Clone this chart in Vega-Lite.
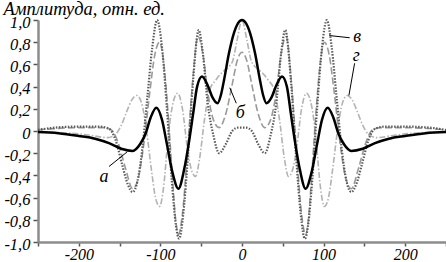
{
  "$schema": "https://vega.github.io/schema/vega-lite/v6.json",
  "width": 408,
  "height": 222,
  "autosize": {"type": "none"},
  "padding": {"left": 38, "top": 20, "right": 0, "bottom": 20},
  "background": "white",
  "config": {
    "view": {"stroke": null},
    "font": "Liberation Serif",
    "axis": {"labelFont": "Liberation Serif", "titleFont": "Liberation Serif", "labelFontStyle": "italic", "titleFontStyle": "italic"}
  },
  "datasets": {
    "a": [
      {"x": -250, "y": -0.01}, {"x": -225, "y": -0.02}, {"x": -200, "y": -0.045}, {"x": -180, "y": -0.07}, {"x": -163, "y": -0.11}, {"x": -148, "y": -0.16}, {"x": -134, "y": -0.18}, {"x": -125, "y": -0.12}, {"x": -118, "y": -0.02}, {"x": -112, "y": 0.12}, {"x": -105, "y": 0.21}, {"x": -98, "y": 0.1}, {"x": -92, "y": -0.12}, {"x": -85, "y": -0.38}, {"x": -78, "y": -0.52}, {"x": -71, "y": -0.35}, {"x": -65, "y": -0.1}, {"x": -60, "y": 0.15}, {"x": -55, "y": 0.4}, {"x": -49, "y": 0.49}, {"x": -42, "y": 0.41}, {"x": -36, "y": 0.3}, {"x": -30, "y": 0.25}, {"x": -26, "y": 0.32}, {"x": -22, "y": 0.46}, {"x": -16, "y": 0.7}, {"x": -10, "y": 0.88}, {"x": -5, "y": 0.97}, {"x": 0, "y": 1.0},
      {"x": 5, "y": 0.97}, {"x": 10, "y": 0.88}, {"x": 16, "y": 0.7}, {"x": 22, "y": 0.46}, {"x": 26, "y": 0.32}, {"x": 30, "y": 0.25}, {"x": 36, "y": 0.3}, {"x": 42, "y": 0.41}, {"x": 49, "y": 0.49}, {"x": 55, "y": 0.4}, {"x": 60, "y": 0.15}, {"x": 65, "y": -0.1}, {"x": 71, "y": -0.35}, {"x": 78, "y": -0.52}, {"x": 85, "y": -0.38}, {"x": 92, "y": -0.12}, {"x": 98, "y": 0.1}, {"x": 105, "y": 0.21}, {"x": 112, "y": 0.12}, {"x": 118, "y": -0.02}, {"x": 125, "y": -0.12}, {"x": 134, "y": -0.18}, {"x": 148, "y": -0.16}, {"x": 163, "y": -0.11}, {"x": 180, "y": -0.07}, {"x": 200, "y": -0.045}, {"x": 225, "y": -0.02}, {"x": 250, "y": -0.01}
    ],
    "b": [
      {"x": -250, "y": 0.01}, {"x": -200, "y": 0.03}, {"x": -170, "y": 0.03}, {"x": -160, "y": 0.01}, {"x": -152, "y": -0.1}, {"x": -143, "y": -0.33}, {"x": -134, "y": -0.52}, {"x": -127, "y": -0.42}, {"x": -120, "y": -0.1}, {"x": -113, "y": 0.35}, {"x": -107, "y": 0.68}, {"x": -101, "y": 0.8}, {"x": -95, "y": 0.55}, {"x": -90, "y": 0.1}, {"x": -85, "y": -0.45}, {"x": -81, "y": -0.82}, {"x": -78, "y": -0.93}, {"x": -73, "y": -0.75}, {"x": -67, "y": -0.2}, {"x": -61, "y": 0.4}, {"x": -54, "y": 0.85}, {"x": -48, "y": 0.7}, {"x": -42, "y": 0.35}, {"x": -35, "y": 0.1}, {"x": -28, "y": 0.03}, {"x": -20, "y": 0.15}, {"x": -12, "y": 0.42}, {"x": -6, "y": 0.63}, {"x": 0, "y": 0.71},
      {"x": 6, "y": 0.63}, {"x": 12, "y": 0.42}, {"x": 20, "y": 0.15}, {"x": 28, "y": 0.03}, {"x": 35, "y": 0.1}, {"x": 42, "y": 0.35}, {"x": 48, "y": 0.7}, {"x": 54, "y": 0.85}, {"x": 61, "y": 0.4}, {"x": 67, "y": -0.2}, {"x": 73, "y": -0.75}, {"x": 78, "y": -0.93}, {"x": 81, "y": -0.82}, {"x": 85, "y": -0.45}, {"x": 90, "y": 0.1}, {"x": 95, "y": 0.55}, {"x": 101, "y": 0.8}, {"x": 107, "y": 0.68}, {"x": 113, "y": 0.35}, {"x": 120, "y": -0.1}, {"x": 127, "y": -0.42}, {"x": 134, "y": -0.52}, {"x": 143, "y": -0.33}, {"x": 152, "y": -0.1}, {"x": 160, "y": 0.01}, {"x": 170, "y": 0.03}, {"x": 200, "y": 0.03}, {"x": 250, "y": 0.01}
    ],
    "v": [
      {"x": -250, "y": 0.01}, {"x": -230, "y": 0.03}, {"x": -200, "y": 0.04}, {"x": -175, "y": 0.04}, {"x": -163, "y": 0.02}, {"x": -155, "y": -0.08}, {"x": -147, "y": -0.3}, {"x": -140, "y": -0.48}, {"x": -134, "y": -0.55}, {"x": -128, "y": -0.45}, {"x": -122, "y": -0.15}, {"x": -116, "y": 0.3}, {"x": -110, "y": 0.75}, {"x": -104, "y": 1.0}, {"x": -98, "y": 0.75}, {"x": -92, "y": 0.2}, {"x": -86, "y": -0.45}, {"x": -81, "y": -0.85}, {"x": -77, "y": -0.97}, {"x": -72, "y": -0.75}, {"x": -66, "y": -0.2}, {"x": -60, "y": 0.45}, {"x": -53, "y": 0.91}, {"x": -48, "y": 0.7}, {"x": -42, "y": 0.25}, {"x": -35, "y": -0.04}, {"x": -28, "y": -0.2}, {"x": -20, "y": -0.12}, {"x": -12, "y": 0.0}, {"x": -5, "y": 0.03}, {"x": 0, "y": 0.03},
      {"x": 5, "y": 0.03}, {"x": 12, "y": 0.0}, {"x": 20, "y": -0.12}, {"x": 28, "y": -0.2}, {"x": 35, "y": -0.04}, {"x": 42, "y": 0.25}, {"x": 48, "y": 0.7}, {"x": 53, "y": 0.91}, {"x": 60, "y": 0.45}, {"x": 66, "y": -0.2}, {"x": 72, "y": -0.75}, {"x": 77, "y": -0.97}, {"x": 81, "y": -0.85}, {"x": 86, "y": -0.45}, {"x": 92, "y": 0.2}, {"x": 98, "y": 0.75}, {"x": 104, "y": 1.0}, {"x": 110, "y": 0.75}, {"x": 116, "y": 0.3}, {"x": 122, "y": -0.15}, {"x": 128, "y": -0.45}, {"x": 134, "y": -0.55}, {"x": 140, "y": -0.48}, {"x": 147, "y": -0.3}, {"x": 155, "y": -0.08}, {"x": 163, "y": 0.02}, {"x": 175, "y": 0.04}, {"x": 200, "y": 0.04}, {"x": 230, "y": 0.03}, {"x": 250, "y": 0.01}
    ],
    "g": [
      {"x": -250, "y": -0.01}, {"x": -210, "y": -0.02}, {"x": -185, "y": -0.04}, {"x": -165, "y": -0.06}, {"x": -155, "y": -0.03}, {"x": -148, "y": 0.05}, {"x": -141, "y": 0.18}, {"x": -135, "y": 0.28}, {"x": -129, "y": 0.32}, {"x": -123, "y": 0.25}, {"x": -117, "y": 0.0}, {"x": -111, "y": -0.35}, {"x": -106, "y": -0.6}, {"x": -101, "y": -0.68}, {"x": -96, "y": -0.5}, {"x": -91, "y": -0.1}, {"x": -86, "y": 0.2}, {"x": -79, "y": 0.34}, {"x": -73, "y": 0.2}, {"x": -67, "y": -0.15}, {"x": -62, "y": -0.35}, {"x": -57, "y": -0.41}, {"x": -52, "y": -0.25}, {"x": -46, "y": 0.1}, {"x": -40, "y": 0.36}, {"x": -32, "y": 0.46}, {"x": -24, "y": 0.53}, {"x": -16, "y": 0.58}, {"x": -11, "y": 0.64}, {"x": -6, "y": 0.82}, {"x": 0, "y": 1.0},
      {"x": 6, "y": 0.82}, {"x": 11, "y": 0.64}, {"x": 16, "y": 0.58}, {"x": 24, "y": 0.53}, {"x": 32, "y": 0.46}, {"x": 40, "y": 0.36}, {"x": 46, "y": 0.1}, {"x": 52, "y": -0.25}, {"x": 57, "y": -0.41}, {"x": 62, "y": -0.35}, {"x": 67, "y": -0.15}, {"x": 73, "y": 0.2}, {"x": 79, "y": 0.34}, {"x": 86, "y": 0.2}, {"x": 91, "y": -0.1}, {"x": 96, "y": -0.5}, {"x": 101, "y": -0.68}, {"x": 106, "y": -0.6}, {"x": 111, "y": -0.35}, {"x": 117, "y": 0.0}, {"x": 123, "y": 0.25}, {"x": 129, "y": 0.32}, {"x": 135, "y": 0.28}, {"x": 141, "y": 0.18}, {"x": 148, "y": 0.05}, {"x": 155, "y": -0.03}, {"x": 165, "y": -0.06}, {"x": 185, "y": -0.04}, {"x": 210, "y": -0.02}, {"x": 250, "y": -0.01}
    ],
    "labels": [
      {"x": -169, "y": -0.41, "t": "а"},
      {"x": -2, "y": 0.16, "t": "б"},
      {"x": 141, "y": 0.85, "t": "в"},
      {"x": 140, "y": 0.68, "t": "г"}
    ],
    "leaders": [
      {"x": -163, "y": -0.32, "x2": -141, "y2": -0.19},
      {"x": -15, "y": 0.39, "x2": -7, "y2": 0.25},
      {"x": 107, "y": 0.86, "x2": 132, "y2": 0.84},
      {"x": 138, "y": 0.61, "x2": 131, "y2": 0.32}
    ]
  },
  "encoding": {
    "x": {
      "field": "x", "type": "quantitative",
      "scale": {"domain": [-250, 250], "nice": false, "zero": false},
      "axis": {
        "title": null, "grid": false,
        "values": [-250, -200, -150, -100, -50, 0, 50, 100, 150, 200, 250],
        "labelExpr": "abs(datum.value % 100) < 0.001 && abs(datum.value) < 250 ? replace(format(datum.value, 'd'), '\u2212', '-') : ''",
        "labelOverlap": false,
        "labelFont": "Liberation Serif", "labelFontStyle": "italic", "labelFontSize": 16, "labelColor": "black",
        "labelPadding": 0, "labelFlush": false, "labelBaseline": "top",
        "domainColor": "#8c8c8c", "domainWidth": 2.5,
        "tickColor": "#555555", "tickWidth": 1.5, "tickSize": 4
      }
    },
    "y": {
      "field": "y", "type": "quantitative",
      "scale": {"domain": [-1, 1], "nice": false, "zero": false},
      "axis": {
        "title": "Амплитуда, отн. ед.",
        "titleAngle": 0, "titleAlign": "left", "titleBaseline": "alphabetic",
        "titleX": -35, "titleY": -6,
        "titleFont": "Liberation Serif", "titleFontStyle": "italic", "titleFontWeight": "normal", "titleFontSize": 18.5, "titleColor": "black",
        "grid": false,
        "values": [-1, -0.8, -0.6, -0.4, -0.2, 0, 0.2, 0.4, 0.6, 0.8, 1],
        "labelExpr": "abs(datum.value) < 0.001 ? '0' : replace(replace(format(datum.value, '.1f'), '.', ','), '\u2212', '-')",
        "labelOverlap": false, "labelFlush": false,
        "labelFont": "Liberation Serif", "labelFontStyle": "italic", "labelFontSize": 16.5, "labelColor": "black",
        "labelPadding": 3, "labelBaseline": "middle", "labelOffset": 2,
        "domainColor": "#8c8c8c", "domainWidth": 2.5,
        "tickColor": "#555555", "tickWidth": 1.5, "tickSize": 5
      }
    }
  },
  "layer": [
    {"data": {"name": "g"}, "mark": {"type": "line", "interpolate": "monotone", "color": "#b3b3b3", "strokeWidth": 1.6, "strokeDash": [6, 2, 1.5, 2]}},
    {"data": {"name": "b"}, "mark": {"type": "line", "interpolate": "monotone", "color": "#9a9a9a", "strokeWidth": 1.6, "strokeDash": [7, 3]}},
    {"data": {"name": "v"}, "mark": {"type": "line", "interpolate": "monotone", "color": "#5a5a5a", "strokeWidth": 2.2, "strokeDash": [1.5, 1.5]}},
    {"data": {"name": "a"}, "mark": {"type": "line", "interpolate": "monotone", "color": "black", "strokeWidth": 2.5}},
    {"data": {"name": "leaders"}, "mark": {"type": "rule", "color": "black", "strokeWidth": 1}, "encoding": {"x2": {"field": "x2"}, "y2": {"field": "y2"}}},
    {"data": {"name": "labels"}, "mark": {"type": "text", "font": "Liberation Serif", "fontStyle": "italic", "fontSize": 18, "color": "black", "align": "center", "baseline": "middle"}, "encoding": {"text": {"field": "t"}}}
  ]
}
